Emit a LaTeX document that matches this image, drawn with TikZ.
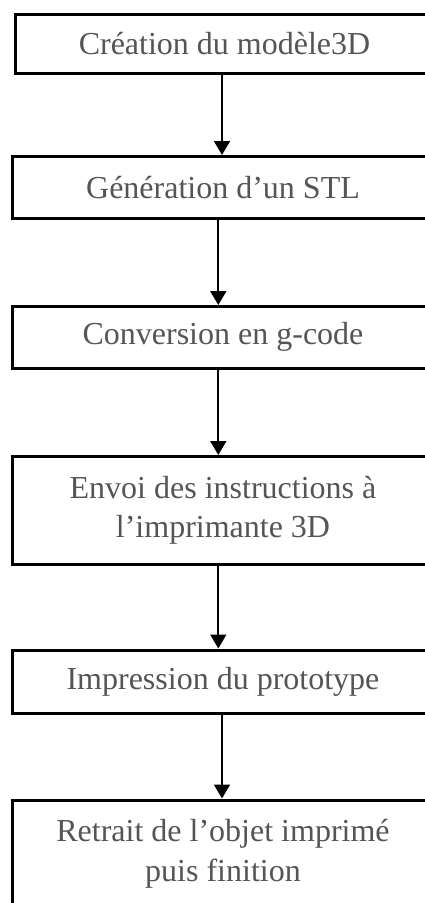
\documentclass[tikz,border=0pt]{standalone}
\usepackage{fontspec}
\setmainfont{Liberation Serif}
\usetikzlibrary{arrows.meta}
\definecolor{txtgray}{RGB}{85,85,85}
\tikzset{
  stepbox/.style={draw=black, line width=3pt, rectangle, inner sep=0pt,
    text=txtgray, align=center, font=\fontsize{32}{39.5}\selectfont},
  arr/.style={line width=1.8pt, -{Triangle[width=16pt,length=14pt]}}
}
\begin{document}
\begin{tikzpicture}[x=1pt,y=1pt]
\useasboundingbox (0,0) rectangle (425,-903);
\clip (0,0) rectangle (425,-903);
\fill[white] (0,0) rectangle (425,-903);
\node[stepbox, minimum width=419pt, minimum height=59pt] (b1) at (224.5,-44) {Création du modèle3D};
\node[stepbox, minimum width=422pt, minimum height=61.5pt] (b2) at (223,-187.25) {Génération d’un STL};
\node[stepbox, minimum width=422pt, minimum height=61.5pt] (b3) at (223,-337.25) {Conversion en g-code};
\node[stepbox, minimum width=422pt, minimum height=108pt] (b4) at (223,-510.5) {Envoi des instructions à\\l’imprimante 3D};
\node[stepbox, minimum width=422pt, minimum height=63.5pt] (b5) at (223,-681.75) {Impression du prototype};
\node[stepbox, minimum width=422pt, minimum height=108pt] (b6) at (223,-854) {Retrait de l’objet imprimé\\puis finition};
\coordinate (xa) at (222,0);
\coordinate (xb) at (218.3,0);
\draw[arr] (b1.south -| xa) -- (b2.north -| xa);
\draw[arr] (b2.south -| xb) -- (b3.north -| xb);
\draw[arr] (b3.south -| xb) -- (b4.north -| xb);
\draw[arr] (b4.south -| xb) -- (b5.north -| xb);
\draw[arr] (b5.south -| xa) -- (b6.north -| xa);
\end{tikzpicture}
\end{document}
